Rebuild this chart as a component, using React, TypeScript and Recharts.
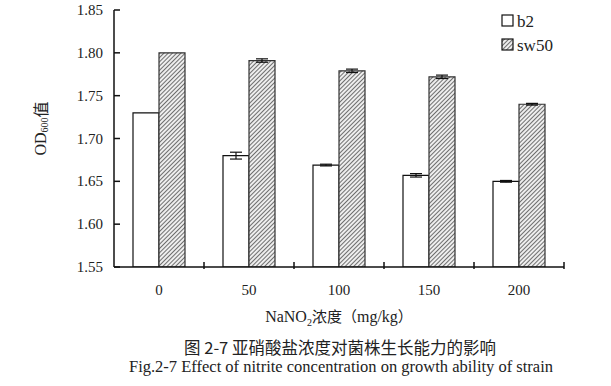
import React from "react";
import {
  BarChart,
  Bar,
  XAxis,
  YAxis,
  ErrorBar,
  Legend,
  Label,
} from "recharts";

// NaNO2 concentration (mg/kg)
const concentrations = ["0", "50", "100", "150", "200"];
const b2Values = [1.73, 1.68, 1.669, 1.657, 1.65];
const b2Errors = [0, 0.004, 0.001, 0.002, 0.001];
const sw50Values = [1.8, 1.791, 1.779, 1.772, 1.74];
const sw50Errors = [0, 0.002, 0.002, 0.002, 0.001];
const yTicks = [1.55, 1.6, 1.65, 1.7, 1.75, 1.8, 1.85];

const data = concentrations.map((c, i) => ({
  conc: c,
  b2: b2Values[i],
  b2Err: b2Errors[i],
  sw50: sw50Values[i],
  sw50Err: sw50Errors[i],
}));

const W = 611;
const H = 386;
const MARGIN = { top: 10, right: 47, bottom: 89, left: 0 };
const Y_WIDTH = 114;
const X_HEIGHT = 30;
const BAND = (W - Y_WIDTH - MARGIN.right) / concentrations.length;

const SERIF = "Liberation Serif, Times New Roman, Times, DejaVu Serif, serif";
const CJK = "Noto Sans CJK SC, sans-serif";
const TEXT = "#222";

function YTick(props: any) {
  const { x, y, payload } = props;
  return (
    <g>
      <line x1={x + 11} x2={x + 17} y1={y} y2={y} stroke="#111" strokeWidth={1.5} />
      <text x={x} y={y + 5} textAnchor="end" fontSize={15} fontFamily={SERIF} fill={TEXT}>
        {payload.value.toFixed(2)}
      </text>
    </g>
  );
}

function XTick(props: any) {
  const { x, y, payload } = props;
  return (
    <g>
      <line x1={x + BAND / 2} x2={x + BAND / 2} y1={y} y2={y - 7} stroke="#111" strokeWidth={1.5} />
      <text x={x} y={y + 26} textAnchor="middle" fontSize={15} fontFamily={SERIF} fill={TEXT}>
        {payload.value}
      </text>
    </g>
  );
}

function YLabel(props: any) {
  const vb = props.viewBox;
  const cx = 40;
  const cy = vb.y + vb.height / 2 - 10;
  return (
    <text
      transform={`translate(${cx},${cy}) rotate(-90)`}
      textAnchor="middle"
      fontSize={16}
      fontFamily={SERIF}
      fill={TEXT}
      dominantBaseline="central"
    >
      OD
      <tspan fontSize={10} dy={4}>600</tspan>
      <tspan dy={-4} fontFamily={CJK}>值</tspan>
    </text>
  );
}

function LegendBox() {
  return (
    <svg width={80} height={50}>
      <rect x={1} y={7} width={11} height={11} fill="#fff" stroke="#111" strokeWidth={1.2} />
      <text x={16} y={19} fontSize={17} fontFamily={SERIF} fill={TEXT}>b2</text>
      <rect x={1} y={31} width={11} height={11} fill="url(#hatch)" stroke="#111" strokeWidth={1.2} />
      <text x={16} y={43} fontSize={17} fontFamily={SERIF} fill={TEXT}>sw50</text>
    </svg>
  );
}

export default function App() {
  return (
    <div style={{ position: "absolute", left: 0, top: 0, width: W, height: H, background: "#fff" }}>
      <BarChart width={W} height={H} data={data} margin={MARGIN} barGap={0} barSize={26}>
        <defs>
          <pattern id="hatch" patternUnits="userSpaceOnUse" width={3} height={3} patternTransform="rotate(45)">
            <rect width={3} height={3} fill="#eeeeee" />
            <line x1={0} y1={0} x2={0} y2={3} stroke="#444" strokeWidth={1.5} />
          </pattern>
        </defs>
        <XAxis
          dataKey="conc"
          height={X_HEIGHT}
          tickSize={0}
          tickLine={false}
          tick={<XTick />}
          axisLine={{ stroke: "#111", strokeWidth: 1.5 }}
          interval={0}
        />
        <YAxis
          width={Y_WIDTH}
          domain={[1.55, 1.85]}
          ticks={yTicks}
          tickSize={0}
          tickMargin={11}
          tickLine={false}
          tick={<YTick />}
          axisLine={{ stroke: "#111", strokeWidth: 1.5 }}
          allowDataOverflow
        >
          <Label content={<YLabel />} />
        </YAxis>
        <Legend
          layout="horizontal"
          verticalAlign="middle"
          align="center"
          content={<LegendBox />}
          wrapperStyle={{ left: 501, top: 8, width: 80 }}
        />
        <Bar dataKey="b2" fill="#fff" stroke="#111" strokeWidth={1.2} isAnimationActive={false}>
          <ErrorBar dataKey="b2Err" width={6} stroke="#111" strokeWidth={1.2} />
        </Bar>
        <Bar dataKey="sw50" fill="url(#hatch)" stroke="#333" strokeWidth={1.2} isAnimationActive={false}>
          <ErrorBar dataKey="sw50Err" width={6} stroke="#111" strokeWidth={1.2} />
        </Bar>
      </BarChart>
      <div
        style={{
          position: "absolute",
          left: 114,
          width: 450,
          top: 305,
          textAlign: "center",
          fontFamily: SERIF,
          fontSize: 16,
          color: TEXT,
        }}
      >
        NaNO<sub style={{ fontSize: 10 }}>2</sub>
        <span style={{ fontFamily: CJK, fontSize: 15 }}>浓度（</span>mg/kg
        <span style={{ fontFamily: CJK, fontSize: 15 }}>）</span>
      </div>
      <div
        style={{
          position: "absolute",
          left: 0,
          width: 680,
          top: 337,
          textAlign: "center",
          fontFamily: CJK,
          fontSize: 16.5,
          color: TEXT,
          lineHeight: "20px",
        }}
      >
        图 2-7 亚硝酸盐浓度对菌株生长能力的影响
      </div>
      <div
        style={{
          position: "absolute",
          left: 0,
          width: 682,
          top: 357,
          textAlign: "center",
          fontFamily: SERIF,
          fontSize: 16.5,
          color: TEXT,
          lineHeight: "20px",
        }}
      >
        Fig.2-7 Effect of nitrite concentration on growth ability of strain
      </div>
    </div>
  );
}
